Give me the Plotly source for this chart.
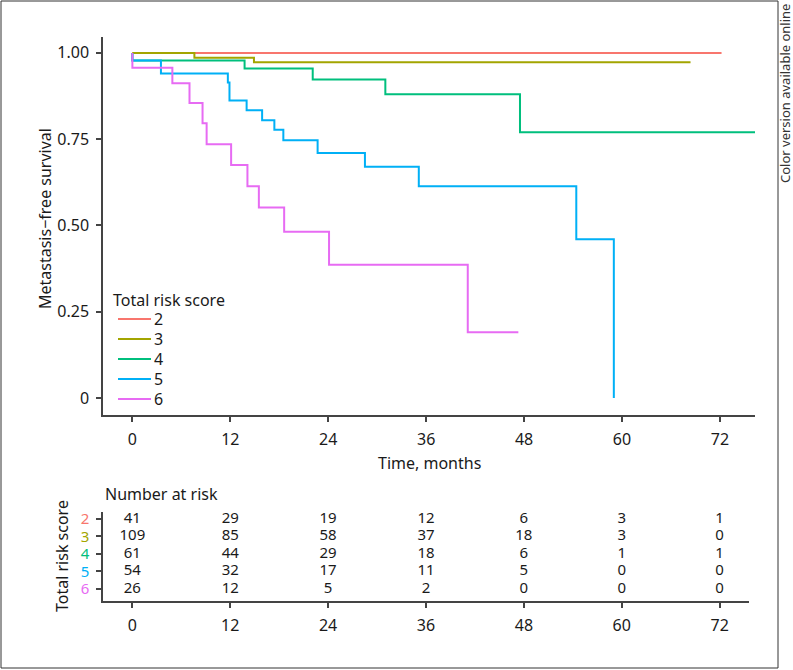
import plotly.graph_objects as go

W, H = 793, 670

groups = ["2", "3", "4", "5", "6"]
colors = ["#F8766D", "#A3A500", "#00BF7D", "#00B0F6", "#E76BF3"]

# Kaplan-Meier step points (months, survival)
t_2 = [0, 72.2]
s_2 = [1.0, 1.0]
t_3 = [0, 7.6, 14.9, 68.4]
s_3 = [1.0, 0.986, 0.973, 0.973]
t_4 = [0, 0, 13.75, 22.1, 31.0, 47.5, 76.3]
s_4 = [1.0, 0.978, 0.955, 0.923, 0.880, 0.770, 0.770]
t_5 = [0, 0, 3.5, 11.7, 11.9, 14.0, 15.9, 17.4, 18.5, 22.7, 28.5, 35.1, 54.4, 59.0]
s_5 = [1.0, 0.978, 0.940, 0.914, 0.862, 0.834, 0.805, 0.777, 0.747, 0.710, 0.670, 0.614, 0.46, 0.0]
t_6 = [0, 0, 4.9, 7.0, 8.6, 9.1, 12.1, 14.1, 15.5, 18.6, 24.1, 41.1, 47.3]
s_6 = [1.0, 0.957, 0.912, 0.855, 0.796, 0.735, 0.675, 0.614, 0.552, 0.482, 0.386, 0.191, 0.191]

times = [t_2, t_3, t_4, t_5, t_6]
survs = [s_2, s_3, s_4, s_5, s_6]

# number at risk table
risk_times = [0, 12, 24, 36, 48, 60, 72]
risk_2 = [41, 29, 19, 12, 6, 3, 1]
risk_3 = [109, 85, 58, 37, 18, 3, 0]
risk_4 = [61, 44, 29, 18, 6, 1, 1]
risk_5 = [54, 32, 17, 11, 5, 0, 0]
risk_6 = [26, 12, 5, 2, 0, 0, 0]
risks = [risk_2, risk_3, risk_4, risk_5, risk_6]

y_ticks = [0, 0.25, 0.5, 0.75, 1.0]
y_labels = ["0", "0.25", "0.50", "0.75", "1.00"]

FONT = "Noto Sans"
FS = 16
FS_TAB = 15
TXT = "#1a1a1a"
AX = "#444444"


def px_x(p):
    return p / W


def px_y(p):
    return 1 - p / H


fig = go.Figure()

for g, c, t, s in zip(groups, colors, times, survs):
    fig.add_trace(
        go.Scatter(
            x=t, y=s, mode="lines", name=g, showlegend=False,
            line=dict(color=c, width=2, shape="hv"),
            xaxis="x", yaxis="y",
        )
    )

# risk table rows: group "2" at top
row_pos = [5, 4, 3, 2, 1]
for g, c, r, rp in zip(groups, colors, risks, row_pos):
    fig.add_trace(
        go.Scatter(
            x=risk_times, y=[rp] * len(risk_times), mode="text",
            text=[str(v) for v in r], textfont=dict(family=FONT, size=FS_TAB, color=TXT),
            showlegend=False, hoverinfo="skip", xaxis="x2", yaxis="y2",
        )
    )

axis_common = dict(
    showline=True, linecolor=AX, linewidth=1.5, ticks="outside", ticklen=5,
    tickcolor=AX, tickwidth=1.5, showgrid=False, zeroline=False,
    automargin=False, ticklabelstandoff=4,
    tickfont=dict(family=FONT, size=FS, color=TXT),
)

fig.update_layout(
    width=W, height=H,
    margin=dict(l=0, r=0, t=0, b=0),
    paper_bgcolor="white", plot_bgcolor="white",
    font=dict(family=FONT, size=FS, color=TXT),
    xaxis=dict(
        domain=[px_x(103), px_x(755)], range=[-3.6, 76.3],
        tickvals=risk_times, anchor="y", **axis_common,
    ),
    yaxis=dict(
        domain=[px_y(415), px_y(37)], range=[-0.049, 1.046],
        tickvals=y_ticks, ticktext=y_labels, anchor="x", **axis_common,
    ),
    xaxis2=dict(
        domain=[px_x(103), px_x(749)], range=[-3.6, 75.6],
        tickvals=risk_times, anchor="y2", **axis_common,
    ),
    yaxis2=dict(
        domain=[px_y(601), px_y(512)], range=[0.31, 5.4],
        tickvals=row_pos,
        ticktext=[f"<span style='color:{c}'>{g}</span>" for g, c in zip(groups, colors)],
        anchor="x2", **axis_common,
    ),
    showlegend=False,
)
fig.update_yaxes(tickfont_size=FS_TAB, selector=dict(anchor="x2"))


def label(text, x, y, angle=0, xanchor="center", size=FS, color=TXT):
    fig.add_annotation(
        text=text, x=px_x(x), y=px_y(y), xref="paper", yref="paper",
        xanchor=xanchor, yanchor="middle", textangle=angle, showarrow=False,
        font=dict(family=FONT, size=size, color=color),
    )


label("Time, months", 429, 463)
label("Metastasis\u2212free survival", 45, 219, angle=-90)
label("Number at risk", 103, 494, xanchor="left")
label("Total risk score", 62, 556, angle=-90)
label("Color version available online", 785, 94, angle=-90, size=13, color="#333333")

# legend drawn in the panel's lower left
label("Total risk score", 111, 300, xanchor="left")
for i, (g, c) in enumerate(zip(groups, colors)):
    yy = 319 + 20 * i
    fig.add_shape(
        type="line", xref="paper", yref="paper",
        x0=px_x(118), x1=px_x(151), y0=px_y(yy), y1=px_y(yy),
        line=dict(color=c, width=2),
    )
    label(g, 152, yy, xanchor="left")

# outer frame
fig.add_shape(
    type="rect", xref="paper", yref="paper",
    x0=px_x(1), x1=px_x(778), y0=px_y(668), y1=px_y(1),
    line=dict(color="#333333", width=1),
)

# page body has a default 8px margin; drop it so the figure fills the window
fig.write_html(
    "out.html",
    config={"displayModeBar": False},
    post_script="document.body.style.margin='0';",
)
